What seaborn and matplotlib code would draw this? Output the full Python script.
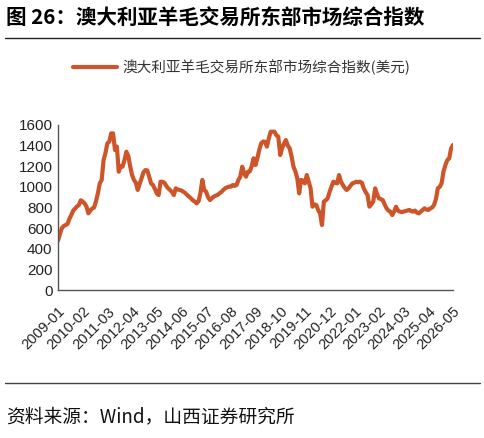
import matplotlib
matplotlib.use("Agg")
import matplotlib.pyplot as plt
import matplotlib.transforms as mtransforms
import seaborn as sns
import pandas as pd
import numpy as np

# ---- data ----
start_month = "2009-01"
values = [
    480, 540, 600, 620, 630, 640, 690, 727, 770, 790, 810, 825,
    870, 857, 840, 808, 743, 770, 790, 800, 860, 937, 1034, 1067,
    1260, 1330, 1422, 1438, 1519, 1519, 1357, 1390, 1147, 1200, 1196, 1260,
    1341, 1300, 1200, 1115, 1067, 1040, 970, 1030, 1083, 1140, 1163, 1160,
    1100, 1034, 1018, 980, 937, 921, 1050, 1050, 1040, 1010, 986, 970,
    950, 921, 986, 975, 970, 965, 953, 940, 921, 905, 889, 870,
    857, 840, 860, 940, 1067, 970, 953, 900, 872, 890, 905, 915,
    921, 937, 950, 970, 986, 995, 1002, 1002, 1018, 1010, 1018, 1067,
    1099, 1196, 1131, 1099, 1147, 1150, 1200, 1277, 1212, 1280, 1360, 1422,
    1440, 1438, 1390, 1470, 1535, 1535, 1535, 1500, 1487, 1309, 1374, 1420,
    1454, 1400, 1374, 1293, 1196, 1150, 1083, 937, 1067, 1060, 1034, 1115,
    1050, 986, 808, 830, 824, 776, 743, 630, 857, 870, 889, 950,
    1002, 1050, 1040, 1034, 1115, 1050, 1018, 990, 970, 986, 1010, 1034,
    1040, 1050, 1045, 1050, 1040, 986, 950, 921, 808, 830, 857, 986,
    930, 889, 880, 872, 830, 792, 770, 760, 727, 760, 808, 770,
    760, 755, 760, 765, 770, 776, 765, 760, 770, 750, 743, 760,
    775, 792, 780, 776, 790, 800, 824, 880, 986, 1000, 1034, 1150,
    1212, 1260, 1277, 1374, 1406,
]
dates = pd.period_range(start_month, periods=len(values), freq="M").strftime("%Y-%m").tolist()
tick_step = 13
series_name = "澳大利亚羊毛交易所东部市场综合指数(美元)"
title = "图 26：澳大利亚羊毛交易所东部市场综合指数"
source = "资料来源：Wind，山西证券研究所"
yticks = [0, 200, 400, 600, 800, 1000, 1200, 1400, 1600]

df = pd.DataFrame({"idx": np.arange(len(values)), "date": dates, "value": values})

sns.set_style("white")
plt.rcParams["font.family"] = ["Liberation Sans", "Noto Sans CJK SC", "DejaVu Sans"]

W, H = 485, 438
fig = plt.figure(figsize=(W / 100, H / 100), dpi=100)
ax = fig.add_axes([58 / W, 1 - 290 / H, (453 - 58) / W, 165 / H])

color = "#CD5529"
sns.lineplot(data=df, x="idx", y="value", ax=ax, color=color, linewidth=3.0,
             label=series_name, legend=False)

ax.set_xlim(0, len(values) - 1)
ax.set_ylim(0, 1600)
ax.set_yticks(yticks)
ax.set_yticklabels([str(v) for v in yticks], fontsize=11, color="#222222")
tick_idx = list(range(0, len(values), tick_step))
ax.set_xticks(tick_idx)
ax.set_xticklabels([dates[i] for i in tick_idx], rotation=45, ha="right", va="center",
                   rotation_mode="anchor", fontsize=10.5, color="#222222")
ax.tick_params(axis="both", direction="in", length=4, width=1, color="#555555", pad=4)
ax.tick_params(axis="x", pad=14)
shift = mtransforms.ScaledTranslation(5 / 100, 0, fig.dpi_scale_trans)
for lbl in ax.get_xticklabels():
    lbl.set_transform(lbl.get_transform() + shift)
ax.set_xlabel("")
ax.set_ylabel("")
for s in ["top", "right"]:
    ax.spines[s].set_visible(False)
for s in ["left", "bottom"]:
    ax.spines[s].set_color("#555555")
    ax.spines[s].set_linewidth(1)

# legend
leg = fig.legend(handles=ax.get_lines()[:1], labels=[series_name],
                 loc="center left", bbox_to_anchor=(60 / W, 1 - 67 / H),
                 frameon=False, handlelength=3.0, handletextpad=0.4,
                 prop={"family": ["Noto Sans CJK SC", "DejaVu Sans"], "size": 10.5})
for t in leg.get_texts():
    t.set_color("#333333")

# title and rules
fig.text(6 / W, 1 - 18 / H, title, fontsize=14.8, fontweight="bold", va="center", ha="left",
         family=["Noto Sans CJK SC", "DejaVu Sans"], color="#000000")
fig.add_artist(plt.Line2D([5 / W, 480 / W], [1 - 38 / H] * 2, color="#222222", lw=1))
fig.add_artist(plt.Line2D([5 / W, 480 / W], [1 - 383 / H] * 2, color="#444444", lw=1))
fig.text(6 / W, 1 - 417 / H, source, fontsize=13.5, va="center", ha="left",
         family=["Noto Sans CJK SC", "DejaVu Sans"], color="#111111")

fig.savefig("out.png", dpi=100)
